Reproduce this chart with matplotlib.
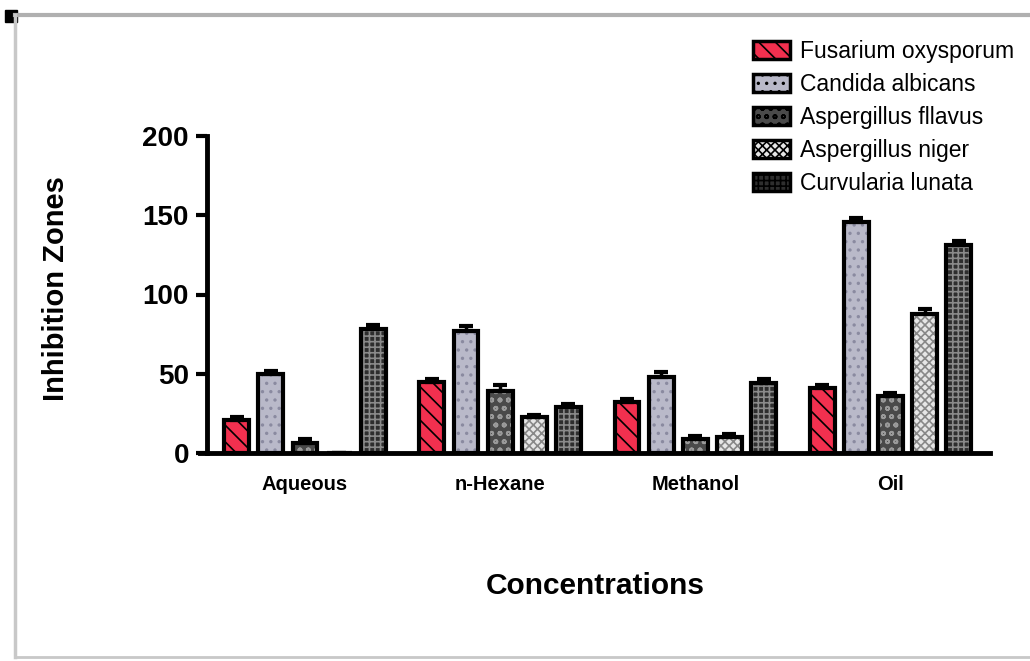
import numpy as np
import matplotlib
matplotlib.use('Agg')
import matplotlib.pyplot as plt
from matplotlib.patches import Patch
from matplotlib.lines import Line2D

plt.rcParams['font.family'] = ['Liberation Sans', 'DejaVu Sans']
plt.rcParams['hatch.linewidth'] = 1.2

groups = ["Aqueous", "n-Hexane", "Methanol", "Oil"]
species = ["Fusarium oxysporum", "Candida albicans", "Aspergillus fllavus",
           "Aspergillus niger", "Curvularia lunata"]
yticks = [0, 50, 100, 150, 200]

fusarium = [21, 45, 32, 41]
candida = [50, 77, 48, 146]
flavus = [6, 39, 9, 36]
niger = [0, 23, 10, 88]
curvularia = [78, 29, 44, 131]

fusarium_err = [2, 2, 2, 2]
candida_err = [2, 3, 3, 2]
flavus_err = [3, 4, 2, 2]
niger_err = [0, 1, 2, 3]
curvularia_err = [3, 2, 3, 3]

values = [fusarium, candida, flavus, niger, curvularia]
errors = [fusarium_err, candida_err, flavus_err, niger_err, curvularia_err]

faces = ['#f2304f', '#b9b9c9', '#4a4a4a', '#e6e6e6', '#2e2e2e']
hatch_cols = ['black', '#8a8aa0', '#9a9a9a', '#888888', '#8a8a8a']
hatches = ['\\\\', '..', 'oo', 'xxxx', '+++']

fig = plt.figure(figsize=(10.3, 6.61), dpi=100)
ax = fig.add_axes([200 / 1030, 1 - 453 / 661, 790 / 1030, 317 / 661])
ax.spines['top'].set_visible(False)
ax.spines['right'].set_visible(False)
ax.spines['left'].set_linewidth(3.5)
ax.spines['bottom'].set_linewidth(3.5)
ax.spines['left'].set_position(('outward', -5))

x = np.arange(len(groups))
width = 0.128
step = 0.175

for i in range(5):
    pos = x + (i - 2) * step
    ax.bar(pos, values[i], width, color=faces[i], edgecolor=hatch_cols[i],
           hatch=hatches[i], linewidth=0, zorder=2)
    ax.bar(pos, values[i], width, color='none', edgecolor='black',
           linewidth=3, zorder=3)
    ax.errorbar(pos, values[i], yerr=[np.zeros(4), errors[i]], fmt='none',
                ecolor='black', elinewidth=2.5, capsize=5, capthick=3, zorder=4)

ax.set_xlim(-0.538, 3.51)
ax.set_ylim(0, 200)
ax.set_yticks(yticks)
ax.set_yticklabels([str(t) for t in yticks], fontsize=20, fontweight='bold')
ax.set_xticks(x)
ax.set_xticklabels(groups, fontsize=14.5, fontweight='bold')
ax.tick_params(axis='x', length=0, pad=16)
ax.tick_params(axis='y', width=3, length=8, pad=5)
ax.set_xlabel("Concentrations", fontsize=21.5, fontweight='bold', labelpad=56)
ax.set_ylabel("Inhibition Zones", fontsize=21, fontweight='bold')
ax.yaxis.set_label_coords(-0.165, 0.52)

handles = [Patch(facecolor=faces[i], edgecolor='black', hatch=hatches[i],
                 linewidth=2.5) for i in range(5)]
fig.legend(handles, species, loc='upper left', bbox_to_anchor=(0.711, 0.971),
           frameon=False, fontsize=16.5, handlelength=1.6, handleheight=0.8,
           labelspacing=0.44, handletextpad=0.45)

# page frame
fig.add_artist(Line2D([15 / 1030, 1], [1 - 15 / 661] * 2, color='#b0b0b0', lw=3))
fig.add_artist(Line2D([15 / 1030] * 2, [1 - 15 / 661, 1 - 657 / 661], color='#c8c8c8', lw=2.5))
fig.add_artist(Line2D([15 / 1030, 1], [1 - 657 / 661] * 2, color='#c8c8c8', lw=2))
fig.add_artist(plt.Rectangle((5 / 1030, 1 - 22 / 661), 12 / 1030, 12 / 661,
                             color='black', transform=fig.transFigure))

fig.savefig("out.png", dpi=100)
